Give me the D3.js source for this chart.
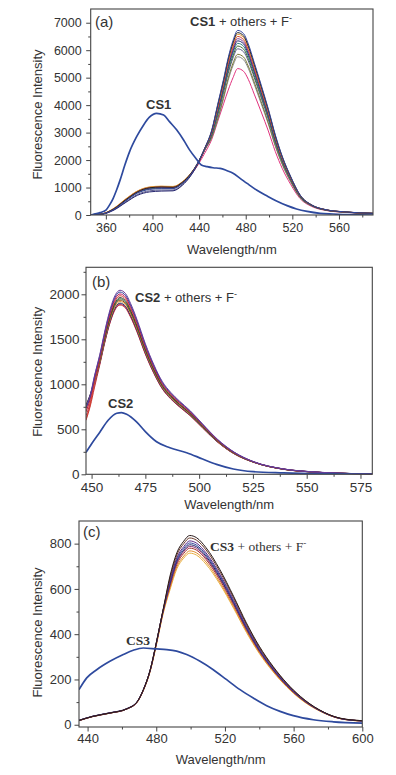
<!DOCTYPE html>
<html>
<head>
<meta charset="utf-8">
<script src="https://cdn.jsdelivr.net/npm/d3@7"></script>
<style>
body { margin: 0; background: #fff; }
svg text { font-family: "Liberation Sans", Arial, Helvetica, sans-serif; fill: #333; }
svg text.note_serif { font-family: "Liberation Serif", "Times New Roman", Times, serif; }
</style>
</head>
<body>
<svg id="chart" width="396" height="775"></svg>
<script>
// ---- panel (a) : CS1 ----
const a_wl = [347, 357, 367, 377.2, 387.3, 397.4, 407.5, 417.6, 425.6, 432.7, 438.7, 444.8, 450.9, 455.9, 461, 465, 469.1, 473.1, 478.2, 482.2, 487.3, 493.3, 499.4, 505.4, 511.4, 518.5, 526.6, 536.7, 548.8, 563.9, 589.2]
const a_family = [
    [0,35,210,520,800,930,960,960,1150,1470,1890,2430,3100, 4020,4950,5730,6350,6720,6600,6230,5550,4730,3860,2920,2130,1410,735, 365,195,118,62],
    [0,40,230,560,850,990,1020,1010,1190,1500,1880,2425,3080, 3980,4890,5670,6270,6640,6520,6150,5490,4670,3820,2880,2110,1390,725, 360,190,115,60],
    [0,45,250,590,880,1020,1050,1040,1210,1510,1885,2420,3060, 3940,4850,5610,6220,6580,6460,6100,5440,4630,3780,2860,2090,1380,720, 362,192,116,61],
    [0,42,240,580,870,1010,1040,1030,1200,1500,1875,2410,3040, 3890,4790,5550,6140,6500,6380,6020,5370,4570,3740,2820,2060,1360,710, 358,190,114,60],
    [0,40,225,550,840,980,1010,1000,1180,1490,1865,2405,3010, 3840,4730,5480,6060,6420,6300,5950,5300,4520,3690,2790,2040,1350,705, 355,188,113,59],
    [0,30,180,460,720,840,870,880,1080,1420,1840,2395,2990, 3800,4670,5410,5990,6340,6230,5870,5240,4460,3640,2750,2010,1330,695, 350,185,112,58],
    [0,38,220,540,830,970,1000,990,1170,1480,1860,2390,2960, 3740,4600,5340,5910,6250,6140,5790,5170,4400,3590,2710,1980,1310,685, 348,184,111,58],
    [0,36,215,530,820,960,990,980,1160,1480,1855,2385,2930, 3680,4530,5250,5810,6150,6040,5700,5080,4330,3540,2670,1950,1290,675, 345,182,110,57],
    [0,32,195,480,750,880,910,910,1100,1440,1845,2380,2900, 3620,4460,5160,5720,6050,5940,5610,5000,4260,3480,2630,1920,1270,665, 342,180,108,56],
    [0,38,220,540,830,960,990,985,1160,1470,1850,2370,2840, 3500,4310,4990,5530,5850,5750,5420,4840,4120,3360,2540,1860,1230,645, 335,176,106,55],
    [0,37,215,530,820,950,985,980,1150,1460,1845,2360,2820, 3450,4240,4910,5440,5760,5650,5340,4760,4050,3310,2500,1830,1210,635, 332,175,105,55],
    [0,40,230,560,850,990,1020,1010,1170,1450,1800,2250,2760, 3400,4050,4550,5000,5330,5230,4940,4400,3750,3060,2310,1690,1120,600, 310,165,100,52]
]
const a_colors = ["#33449a", "#222222", "#e39a34", "#d2402f", "#7b3b96", "#25256e", "#2f7f80", "#3c6b34", "#5a5a8c", "#7a7a36", "#8a8a8a", "#e0307c"]
const cs1_wl = [347, 350, 355, 360.1, 363.1, 366.2, 369.2, 372.2, 376.3, 380.3, 386.4, 392.4, 397.4, 403.5, 409.6, 414.6, 420.7, 426.7, 431.8, 437.8, 441.9, 446.9, 451.9, 458, 464.1, 469.1, 475.2, 481.2, 489.3, 498.4, 506.4, 515.5, 523.6, 532.7, 543.8, 554.9, 569, 589.2]
const cs1_values = [0, 36, 85, 180, 360, 600, 910, 1270, 1820, 2300, 2850, 3280, 3560, 3700, 3640, 3400, 3100, 2730, 2370, 2030, 1820, 1760, 1720, 1700, 1610, 1520, 1335, 1150, 910, 690, 510, 340, 220, 130, 60, 36, 12, 0]
const a_x_ticks = [360, 400, 440, 480, 520, 560]
const a_y_ticks = [0, 1000, 2000, 3000, 4000, 5000, 6000, 7000]

// ---- panel (b) : CS2 ----
const b_wl = [447.4, 449.4, 451.3, 453.8, 456.3, 458.7, 461.2, 463.2, 465.7, 468.1, 471.1, 475, 479, 482.9, 486.8, 490.8, 495.7, 501.6, 508.5, 516.4, 525.3, 539.1, 551.9, 562.7, 580.5]
const b_family = [
    [760,885, 1090,1330,1610,1840,2000,2045,2010,1900,1720,1450,1215,1030,910,815,710,560,390,245, 140,60,29,15,4],
    [740,870, 1080,1317,1594,1822,1980,2025,1990,1881,1703,1436,1203,1020,901,807,703,554,386,243, 140,60,29,15,4],
    [700,840, 1060,1303,1578,1803,1960,2004,1970,1862,1686,1421,1191,1009,892,799,696,549,382,240, 139,59,28,14,4],
    [620,780, 1020,1280,1562,1785,1940,1984,1950,1843,1668,1407,1179,999,883,791,689,543,378,238, 138,59,28,14,4],
    [770,890, 1046,1277,1546,1766,1920,1963,1930,1824,1651,1392,1166,989,874,782,682,538,374,235, 137,58,28,14,4],
    [750,875, 1039,1267,1534,1754,1906,1949,1916,1811,1639,1382,1158,982,867,777,677,534,372,233, 136,58,27,14,4],
    [730,860, 1031,1258,1523,1741,1892,1935,1901,1797,1627,1372,1149,974,861,771,672,530,369,232, 136,57,27,14,4],
    [690,830, 1015,1249,1512,1728,1878,1920,1887,1784,1615,1362,1141,967,854,765,667,526,366,230, 135,57,27,13,4],
    [760,880, 1014,1237,1497,1711,1860,1902,1869,1767,1600,1349,1130,958,846,758,660,521,363,228, 134,56,27,13,4],
    [650,800, 990,1229,1488,1700,1848,1890,1857,1756,1589,1340,1123,952,841,753,656,517,360,226, 134,56,26,13,4],
    [600,760, 960,1215,1481,1693,1840,1881,1849,1748,1582,1334,1118,948,837,750,653,515,359,225, 133,56,26,13,4]
]
const b_colors = ["#6a3d9a", "#33449a", "#c2185b", "#d2402f", "#333333", "#3d7a3d", "#8b4a1c", "#e39a34", "#1f2a6b", "#b03060", "#c93030"]
const cs2_wl = [447.4, 450.1, 453.9, 457.7, 461.7, 463.9, 466.3, 470.9, 475.1, 480.2, 486.4, 494.2, 501.6, 508.1, 515.9, 525.2, 539.1, 551.5, 562.4, 580.5]
const cs2_values = [243, 343, 471, 600, 678, 685, 667, 582, 471, 361, 295, 240, 170, 110, 59, 29, 15, 7, 4, 0]
const b_x_ticks = [450, 475, 500, 525, 550, 575]
const b_y_ticks = [0, 500, 1000, 1500, 2000]

// ---- panel (c) : CS3 ----
const c_wl = [435, 443, 453, 463, 469, 472.5, 476.5, 480, 484, 488, 492, 496, 499.5, 503.5, 509, 517, 525, 532.5, 540, 548, 556, 564, 575, 587, 600]
const c_family = [
    [19,37,52,71,103,155,243,361,509, 657,760,811,836,826,782,686,568,450,347,258,184,125, 66,29,18],
    [18,36,51,70,102,154,242,360,507, 648,750,800,825,815,772,677,561,444,342,255,182,123, 65,29,18],
    [19,37,52,71,103,155,243,360,506, 638,738,787,812,802,759,666,552,437,337,251,179,121, 65,28,17],
    [19,37,52,70,102,154,241,358,504, 631,730,779,803,793,751,659,545,432,333,248,177,120, 64,28,17],
    [20,38,53,72,104,156,244,361,506, 625,723,771,795,786,744,652,540,428,330,245,175,119, 64,28,17],
    [18,36,51,70,101,153,240,356,500, 620,717,765,788,779,737,647,536,424,327,243,174,118, 63,28,17],
    [19,37,52,71,102,154,241,357,501, 613,709,757,780,771,730,640,530,420,324,241,172,117, 63,27,17],
    [19,37,52,70,101,152,238,352,495, 604,698,745,768,759,719,630,522,414,319,237,169,115, 62,27,16],
    [18,36,51,70,100,151,236,349,490, 596,689,736,758,749,709,622,515,408,315,234,167,113, 61,27,16]
]
const c_colors = ["#2a1a1a", "#6b3a2a", "#5b2a86", "#33449a", "#1f2a6b", "#8e2c6e", "#9c3030", "#e08a2a", "#e8b040"]
const cs3_wl = [435, 439.5, 445.3, 453, 460.8, 466.6, 472.4, 480.2, 486.1, 491.9, 497.7, 505.5, 513.2, 521, 528.8, 536.5, 544.3, 552.1, 559.8, 571.5, 583.1, 600]
const cs3_values = [155, 207, 243, 280, 310, 329, 339, 335, 332, 325, 310, 280, 243, 199, 155, 118, 84, 59, 40, 22, 13, 7]
const c_x_ticks = [440, 480, 520, 560, 600]
const c_y_ticks = [0, 200, 400, 600, 800]

const cs_color = "#2e4a9e"
const axis_color = "#444"
const svg = d3.select("#chart")

function midpoints(ticks) {
    let out = []
    const step = ticks[1] - ticks[0]
    for (let i = 0; i < ticks.length; i++) {
        out.push(ticks[i] - step / 2, ticks[i] + step / 2)
    }
    return Array.from(new Set(out))
}

function draw_panel(p) {
    const x = d3.scaleLinear().domain(p.x_domain).range([p.left, p.right])
    const y = d3.scaleLinear().domain(p.y_domain).range([p.bottom, p.top])
    const g = svg.append("g")

    g.append("clipPath").attr("id", "clip_" + p.name)
        .append("rect")
        .attr("x", p.left).attr("y", p.top)
        .attr("width", p.right - p.left).attr("height", p.bottom - p.top)

    const x_minor = midpoints(p.x_ticks).filter(v => v > p.x_domain[0] && v < p.x_domain[1])
    const y_minor = midpoints(p.y_ticks).filter(v => v > p.y_domain[0] && v < p.y_domain[1])

    // minor ticks
    g.append("g")
        .attr("transform", "translate(0," + p.bottom + ")")
        .call(d3.axisBottom(x).tickValues(x_minor).tickSize(2.5).tickFormat(""))
    g.append("g")
        .attr("transform", "translate(" + p.left + ",0)")
        .call(d3.axisLeft(y).tickValues(y_minor).tickSize(2.5).tickFormat(""))

    // major ticks
    g.append("g")
        .attr("transform", "translate(0," + p.bottom + ")")
        .call(d3.axisBottom(x).tickValues(p.x_ticks).tickSize(4.5).tickPadding(p.x_pad).tickFormat(d3.format("d")))
    g.append("g")
        .attr("transform", "translate(" + p.left + ",0)")
        .call(d3.axisLeft(y).tickValues(p.y_ticks).tickSize(4.5).tickPadding(p.y_pad).tickFormat(d3.format("d")))

    g.selectAll(".domain").remove()
    g.selectAll(".tick line").attr("stroke", axis_color)
    g.selectAll(".tick text")
        .style("font-size", p.tick_font + "px")
        .attr("fill", "#333")

    // curves
    const plot = g.append("g").attr("clip-path", "url(#clip_" + p.name + ")")
    const line = d3.line()
        .curve(d3.curveMonotoneX)
        .x(d => x(d[0]))
        .y(d => y(d[1]))

    for (let i = p.family.length - 1; i >= 0; i--) {
        const pts = p.wl.map((w, k) => [w, p.family[i][k]])
        plot.append("path")
            .datum(pts)
            .attr("fill", "none")
            .attr("stroke", p.colors[i])
            .attr("stroke-width", 1)
            .attr("d", line)
    }
    const cs_pts = p.cs_wl.map((w, k) => [w, p.cs_values[k]])
    plot.append("path")
        .datum(cs_pts)
        .attr("fill", "none")
        .attr("stroke", cs_color)
        .attr("stroke-width", 1.7)
        .attr("d", line)

    // frame
    g.append("rect")
        .attr("x", p.left).attr("y", p.top)
        .attr("width", p.right - p.left).attr("height", p.bottom - p.top)
        .attr("fill", "none")
        .attr("stroke", axis_color)
        .attr("stroke-width", 1.1)

    // axis titles
    g.append("text")
        .attr("x", (p.left + p.right) / 2)
        .attr("y", p.x_title_y)
        .attr("text-anchor", "middle")
        .style("font-size", "13px")
        .text("Wavelength/nm")
    g.append("text")
        .attr("transform", "translate(41.5," + p.y_title_y + ") rotate(-90)")
        .attr("text-anchor", "middle")
        .style("font-size", "13px")
        .text("Fluorescence Intensity")

    // panel letter
    g.append("text")
        .attr("x", p.letter_x).attr("y", p.letter_y)
        .style("font-size", "15px")
        .text("(" + p.name + ")")

    // annotations
    const fam = g.append("text")
        .attr("class", p.note_class)
        .attr("x", p.fam_x).attr("y", p.fam_y)
        .style("font-size", p.note_font + "px")
    fam.append("tspan").attr("font-weight", "bold").text(p.cs_name)
    fam.append("tspan").text(" + others + F")
    fam.append("tspan").attr("dy", -5).attr("font-size", "9px").text("-")

    g.append("text")
        .attr("class", p.note_class)
        .attr("x", p.cs_x).attr("y", p.cs_y)
        .style("font-size", p.note_font + "px")
        .attr("font-weight", "bold")
        .text(p.cs_name)
}

draw_panel({
    name: "a", left: 90.7, right: 373, top: 9, bottom: 215,
    x_domain: [347, 589.2], y_domain: [0, 7500],
    x_ticks: a_x_ticks, y_ticks: a_y_ticks, x_pad: 4, y_pad: 4.5, tick_font: 12.5,
    wl: a_wl, family: a_family, colors: a_colors, cs_wl: cs1_wl, cs_values: cs1_values,
    x_title_y: 254, y_title_y: 114.5, letter_x: 95, letter_y: 27,
    cs_name: "CS1", fam_x: 190, fam_y: 26, cs_x: 146, cs_y: 109, note_font: 13, note_class: "note_sans"
})
draw_panel({
    name: "b", left: 86, right: 372.3, top: 267.3, bottom: 474.3,
    x_domain: [447.4, 580.5], y_domain: [0, 2300],
    x_ticks: b_x_ticks, y_ticks: b_y_ticks, x_pad: 3.5, y_pad: 2, tick_font: 13.5,
    wl: b_wl, family: b_family, colors: b_colors, cs_wl: cs2_wl, cs_values: cs2_values,
    x_title_y: 509, y_title_y: 371.7, letter_x: 92, letter_y: 287,
    cs_name: "CS2", fam_x: 135, fam_y: 302, cs_x: 108, cs_y: 408, note_font: 13, note_class: "note_sans"
})
draw_panel({
    name: "c", left: 79, right: 362.3, top: 521, bottom: 727,
    x_domain: [435, 600], y_domain: [-10, 900],
    x_ticks: c_x_ticks, y_ticks: c_y_ticks, x_pad: 2.5, y_pad: 3, tick_font: 13,
    wl: c_wl, family: c_family, colors: c_colors, cs_wl: cs3_wl, cs_values: cs3_values,
    x_title_y: 764, y_title_y: 632.5, letter_x: 83, letter_y: 537,
    cs_name: "CS3", fam_x: 210, fam_y: 551, cs_x: 126, cs_y: 645, note_font: 13.5, note_class: "note_serif"
})
</script>
</body>
</html>
